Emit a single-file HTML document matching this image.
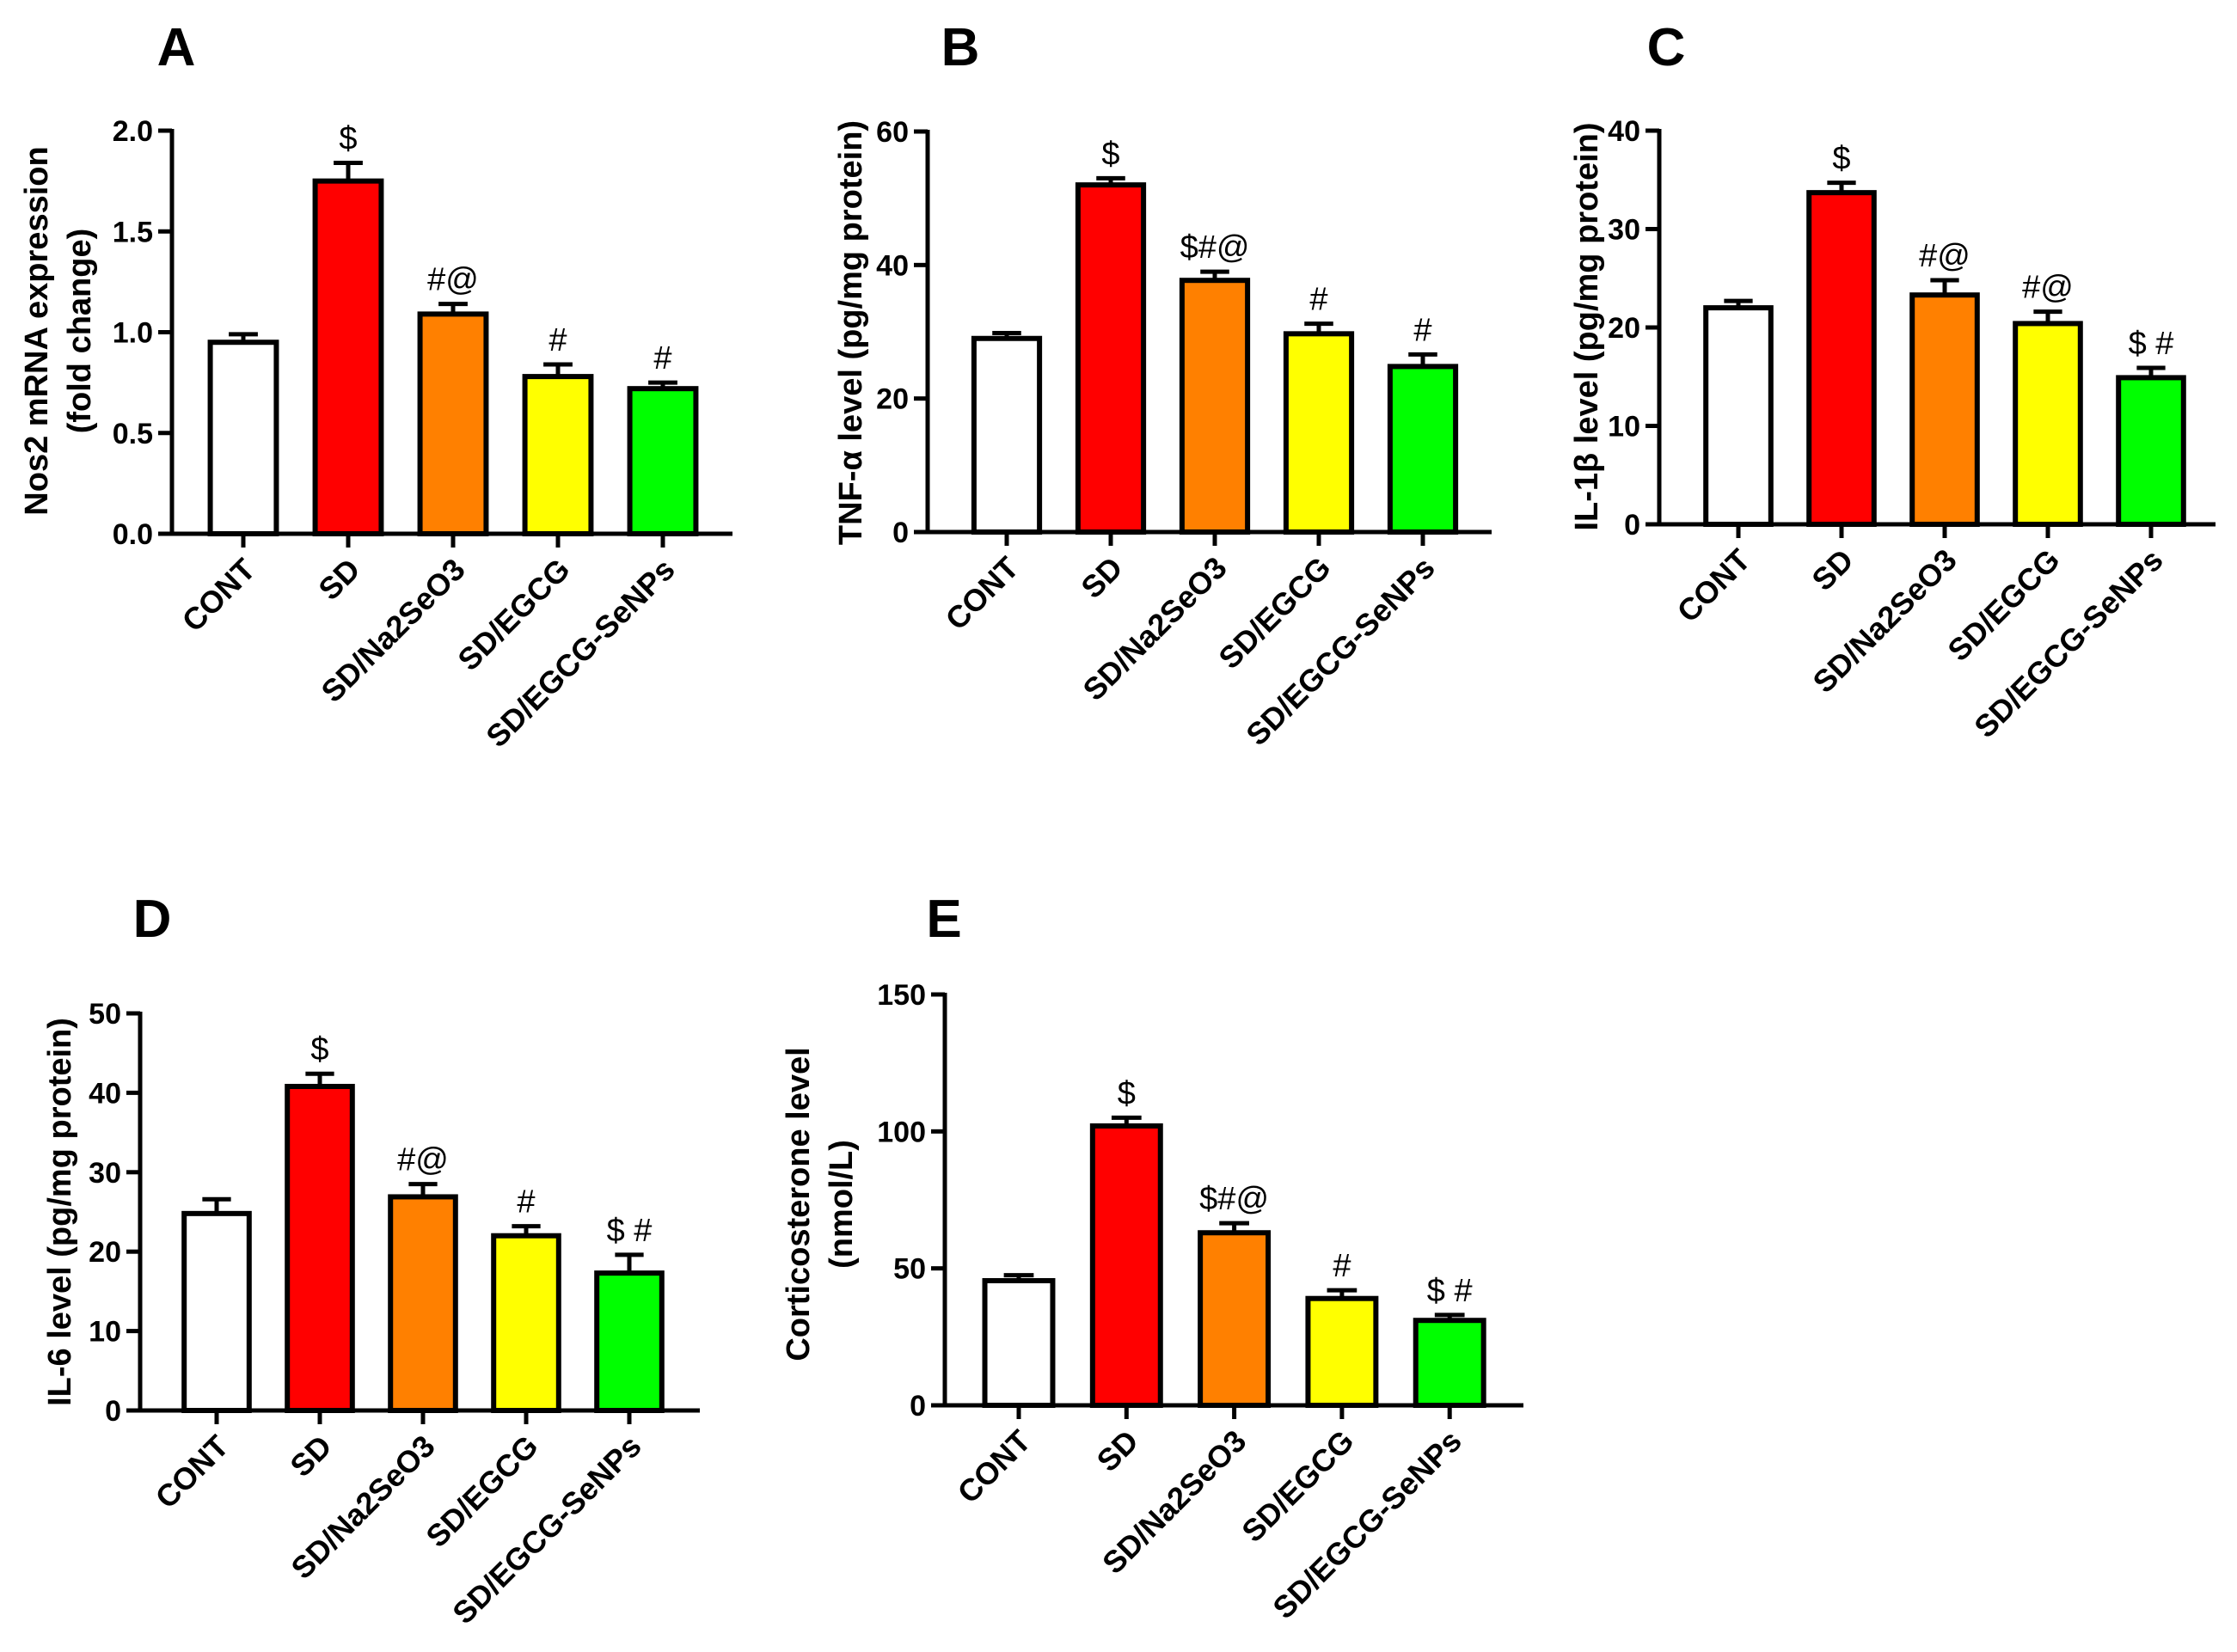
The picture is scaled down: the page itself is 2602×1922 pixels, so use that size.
<!DOCTYPE html>
<html><head><meta charset="utf-8"><style>
html,body{margin:0;padding:0;background:#fff}
svg{display:block;font-family:"Liberation Sans",Arial,sans-serif}
</style></head><body>
<svg id="fig" width="2602" height="1922" viewBox="0 0 2602 1922"></svg>
<script>
const categories = ["CONT","SD","SD/Na2SeO3","SD/EGCG","SD/EGCG-SeNPs"];
const colors = ["#ffffff","#ff0000","#ff8000","#ffff00","#00ff00"];
const valuesA = [0.95,1.75,1.09,0.78,0.72];
const errorsA = [0.04,0.09,0.05,0.06,0.03];
const annotA = ["","$","#@","#","#"];
const ticksA = [0,0.5,1.0,1.5,2.0];
const valuesB = [29,52,37.7,29.7,24.8];
const errorsB = [0.8,1.0,1.3,1.5,1.8];
const annotB = ["","$","$#@","#","#"];
const ticksB = [0,20,40,60];
const valuesC = [22,33.7,23.3,20.4,14.9];
const errorsC = [0.7,1.0,1.5,1.2,1.0];
const annotC = ["","$","#@","#@","$ #"];
const ticksC = [0,10,20,30,40];
const valuesD = [24.8,40.8,26.9,22,17.3];
const errorsD = [1.8,1.6,1.6,1.2,2.3];
const annotD = ["","$","#@","#","$ #"];
const ticksD = [0,10,20,30,40,50];
const valuesE = [45.5,102,63,39,31];
const errorsE = [2,3,3.5,3,2];
const annotE = ["","$","$#@","#","$ #"];
const ticksE = [0,50,100,150];

const NS="http://www.w3.org/2000/svg";
const svg=document.getElementById('fig');
function mk(tag,attrs,parent,text){const e=document.createElementNS(NS,tag);for(const k in attrs)e.setAttribute(k,attrs[k]);if(text!==undefined)e.textContent=text;(parent||svg).appendChild(e);return e;}

function panel(p){
  const g=mk('g',{});
  
  
  const ymax=p.ticks[p.ticks.length-1];
  const y=v=>p.bottom-(v/ymax)*(p.bottom-p.top);
  const xc=i=>p.x0+p.step*i;
  const bw=p.step*0.63;
  const L=mk('text',{x:p.lx,y:p.ly,'font-size':62,'font-weight':'bold','text-anchor':'middle'},g,p.letter);
  
  
  p.values.forEach((v,i)=>{
    const eb=mk('line',{x1:xc(i),x2:xc(i),y1:y(v),y2:y(v+p.errors[i]),stroke:'#000','stroke-width':5},g);
    
    
    mk('line',{x1:xc(i)-bw*0.22,x2:xc(i)+bw*0.22,y1:y(v+p.errors[i]),y2:y(v+p.errors[i]),stroke:'#000','stroke-width':5},g);
    const r=mk('rect',{x:xc(i)-bw/2,y:y(v),width:bw,height:p.bottom-y(v),fill:colors[i],stroke:'#000','stroke-width':6},g);
    
    
    if(p.annot[i]){
      const a=mk('text',{x:xc(i),y:y(v+p.errors[i])-16,'font-size':38,'text-anchor':'middle'},g,p.annot[i]);
      
      
    }
    mk('line',{x1:xc(i),x2:xc(i),y1:p.bottom,y2:p.bottom+16,stroke:'#000','stroke-width':5},g);
    const t=mk('text',{x:0,y:0,'font-size':36,'font-weight':'bold','text-anchor':'end',transform:`translate(${xc(i)+16},${p.bottom+44}) rotate(-45)`},g,categories[i]);
    
    
  });
  const ya=mk('line',{x1:p.ax,x2:p.ax,y1:p.top-2,y2:p.bottom+2,stroke:'#000','stroke-width':5},g);
  
  
  const xa=mk('line',{x1:p.ax-16,x2:p.right,y1:p.bottom,y2:p.bottom,stroke:'#000','stroke-width':5},g);
  
  
  p.ticks.forEach(t=>{
    mk('line',{x1:p.ax-16,x2:p.ax,y1:y(t),y2:y(t),stroke:'#000','stroke-width':5},g);
    const lb=mk('text',{x:p.ax-22,y:y(t)+12,'font-size':34,'font-weight':'bold','text-anchor':'end'},g,p.fmt?t.toFixed(1):String(t));
    
    
  });
  p.titles.forEach((s,k)=>{
    const tx=p.tx[k];
    const tt=mk('text',{x:0,y:0,'font-size':38,'font-weight':'bold','text-anchor':'middle',transform:`translate(${tx},${p.ty}) rotate(-90)`},g,s);
    
    
  });
}
panel({letter:'A',lx:205,ly:76,values:valuesA,errors:errorsA,annot:annotA,ticks:ticksA,fmt:true,ax:200,top:152,bottom:621,right:852,x0:283,step:122,titles:['Nos2 mRNA expression','(fold change)'],tx:[55,105],ty:385});
panel({letter:'B',lx:1117,ly:76,values:valuesB,errors:errorsB,annot:annotB,ticks:ticksB,ax:1079,top:153,bottom:619,right:1735,x0:1171,step:121,titles:['TNF-α level (pg/mg protein)'],tx:[1002],ty:387});
panel({letter:'C',lx:1938,ly:76,values:valuesC,errors:errorsC,annot:annotC,ticks:ticksC,ax:1930,top:152,bottom:610,right:2577,x0:2022,step:120,titles:['IL-1β level (pg/mg protein)'],tx:[1858],ty:380});
panel({letter:'D',lx:177,ly:1090,values:valuesD,errors:errorsD,annot:annotD,ticks:ticksD,ax:163,top:1179,bottom:1641,right:814,x0:252,step:120,titles:['IL-6 level (pg/mg protein)'],tx:[82],ty:1410});
panel({letter:'E',lx:1098,ly:1090,values:valuesE,errors:errorsE,annot:annotE,ticks:ticksE,ax:1099,top:1157,bottom:1635,right:1772,x0:1185,step:125.3,titles:['Corticosterone level','(nmol/L)'],tx:[941,991],ty:1401});
</script>
</body></html>
